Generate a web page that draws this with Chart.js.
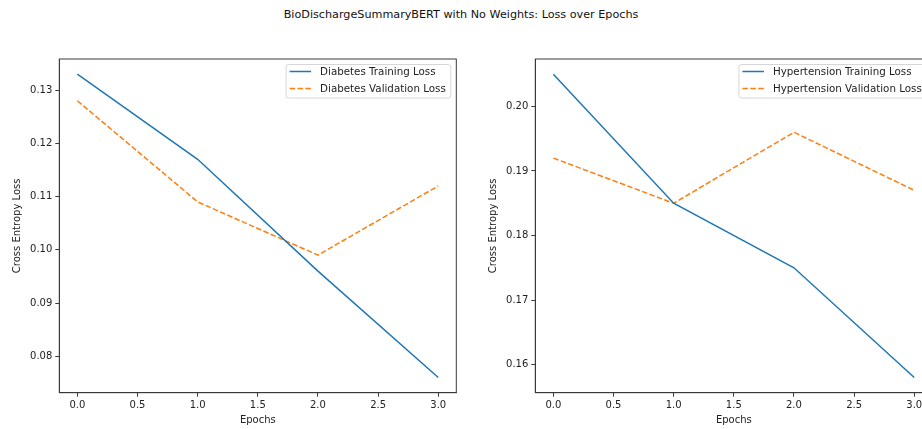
<!DOCTYPE html>
<html>
<head>
<meta charset="utf-8">
<script src="https://cdn.jsdelivr.net/npm/chart.js@4/dist/chart.umd.min.js"></script>
<style>
  html, body { margin: 0; padding: 0; background: #fff; overflow: hidden; }
  body { width: 922px; height: 429px; position: relative; }
  #suptitle { position: absolute; left: 0; width: 922px; top: 8px; text-align: center;
              font-family: 'DejaVu Sans', sans-serif; font-size: 11.2px; color: #111; }
  .panel { position: absolute; top: 50px; width: 462px; height: 379px; }
</style>
</head>
<body>
<div id="suptitle">BioDischargeSummaryBERT with No Weights: Loss over Epochs</div>
<div class="panel" style="left:0px"><canvas id="diabetesChart"></canvas></div>
<div class="panel" style="left:476px"><canvas id="hypertensionChart"></canvas></div>
<script>
var epochs = [0, 1, 2, 3];
var diabetesTrain = [0.133, 0.117, 0.096, 0.076];
var diabetesVal = [0.128, 0.109, 0.099, 0.112];
var hypertensionTrain = [0.205, 0.185, 0.175, 0.158];
var hypertensionVal = [0.192, 0.185, 0.196, 0.187];
var xTicks = [0, 0.5, 1, 1.5, 2, 2.5, 3];
var diabetesYTicks = [0.08, 0.09, 0.10, 0.11, 0.12, 0.13];
var hypertensionYTicks = [0.16, 0.17, 0.18, 0.19, 0.20];

Chart.defaults.font.family = "'DejaVu Sans', sans-serif";
Chart.defaults.font.size = 10;
Chart.defaults.color = '#222';

var blue = '#1f77b4';
var orange = '#ff7f0e';
var spine = '#3a3a3a';

// matplotlib-ish 5% margins
function padRange(arrs) {
    var all = [].concat.apply([], arrs);
    var lo = Math.min.apply(null, all), hi = Math.max.apply(null, all);
    var m = (hi - lo) * 0.05;
    return [lo - m, hi + m];
}

function toPoints(ys) {
    return epochs.map((x, i) => ({ x: x, y: ys[i] }));
}

// box around the plot, like matplotlib spines
var framePlugin = {
    id: 'frame',
    afterDatasetsDraw: function (chart) {
        var a = chart.chartArea, ctx = chart.ctx;
        ctx.save();
        ctx.strokeStyle = spine;
        ctx.lineWidth = 1;
        ctx.strokeRect(a.left, a.top, a.right - a.left, a.bottom - a.top);
        ctx.restore();
    }
};

// legend in the upper right corner inside the axes
var innerLegend = {
    id: 'innerLegend',
    afterDraw: function (chart) {
        var a = chart.chartArea, ctx = chart.ctx;
        var sets = chart.data.datasets;
        ctx.save();
        ctx.font = "10.3px 'DejaVu Sans', sans-serif";
        var tw = Math.max.apply(null, sets.map(d => ctx.measureText(d.label).width));
        var w = 34 + tw + 5;
        var h = 33.5;
        var x = a.right - 5.5 - w;
        var y = a.top + 5.5;
        ctx.beginPath();
        ctx.roundRect(x, y, w, h, 2.5);
        ctx.fillStyle = 'rgba(255,255,255,0.8)';
        ctx.fill();
        ctx.strokeStyle = '#d6d6d6';
        ctx.lineWidth = 1;
        ctx.stroke();
        sets.forEach(function (d, i) {
            var cy = y + 7 + i * 17;
            ctx.beginPath();
            ctx.setLineDash(d.borderDash || []);
            ctx.strokeStyle = d.borderColor;
            ctx.lineWidth = d.borderWidth;
            ctx.moveTo(x + 3.5, cy);
            ctx.lineTo(x + 25, cy);
            ctx.stroke();
            ctx.setLineDash([]);
            ctx.fillStyle = '#222';
            ctx.textBaseline = 'middle';
            ctx.fillText(d.label, x + 34, cy + 0.5);
        });
        ctx.restore();
    }
};

function drawLossChart(id, name, train, val, yTicks) {
    var yr = padRange([train, val]);
    var xr = padRange([epochs]);
    new Chart(document.getElementById(id), {
        type: 'line',
        data: {
            datasets: [{
                label: name + ' Training Loss',
                data: toPoints(train),
                borderColor: blue,
                borderWidth: 1.5,
                pointRadius: 0,
                tension: 0
            }, {
                label: name + ' Validation Loss',
                data: toPoints(val),
                borderColor: orange,
                borderWidth: 1.5,
                borderDash: [5.5, 2.4],
                pointRadius: 0,
                tension: 0
            }]
        },
        options: {
            animation: false,
            responsive: true,
            maintainAspectRatio: false,
            devicePixelRatio: 1,
            layout: { padding: { top: 3.3, right: 5.7, left: 0, bottom: 0 } },
            plugins: {
                legend: { display: false },
                tooltip: { enabled: false }
            },
            scales: {
                x: {
                    type: 'linear',
                    min: xr[0],
                    max: xr[1],
                    afterBuildTicks: function (s) { s.ticks = xTicks.map(v => ({ value: v })); },
                    afterFit: function (s) { s.height = 36.3; },
                    ticks: {
                        callback: v => v.toFixed(1),
                        padding: 3,
                        maxRotation: 0,
                        autoSkip: false,
                        color: '#222'
                    },
                    grid: { drawOnChartArea: false, tickLength: 4, color: spine },
                    border: { color: spine, width: 1 },
                    title: { display: true, text: 'Epochs', color: '#222', padding: { top: 0, bottom: 2.3 } }
                },
                y: {
                    min: yr[0],
                    max: yr[1],
                    afterBuildTicks: function (s) { s.ticks = yTicks.map(v => ({ value: v })); },
                    afterFit: function (s) { s.width = 59.3; },
                    ticks: {
                        callback: v => v.toFixed(2),
                        padding: 3,
                        autoSkip: false,
                        color: '#222'
                    },
                    grid: { drawOnChartArea: false, tickLength: 4, color: spine },
                    border: { color: spine, width: 1 },
                    title: { display: true, text: 'Cross Entropy Loss', color: '#222', padding: { top: 11.3, bottom: 0 } }
                }
            }
        },
        plugins: [framePlugin, innerLegend]
    });
}

drawLossChart('diabetesChart', 'Diabetes', diabetesTrain, diabetesVal, diabetesYTicks);
drawLossChart('hypertensionChart', 'Hypertension', hypertensionTrain, hypertensionVal, hypertensionYTicks);
</script>
</body>
</html>
